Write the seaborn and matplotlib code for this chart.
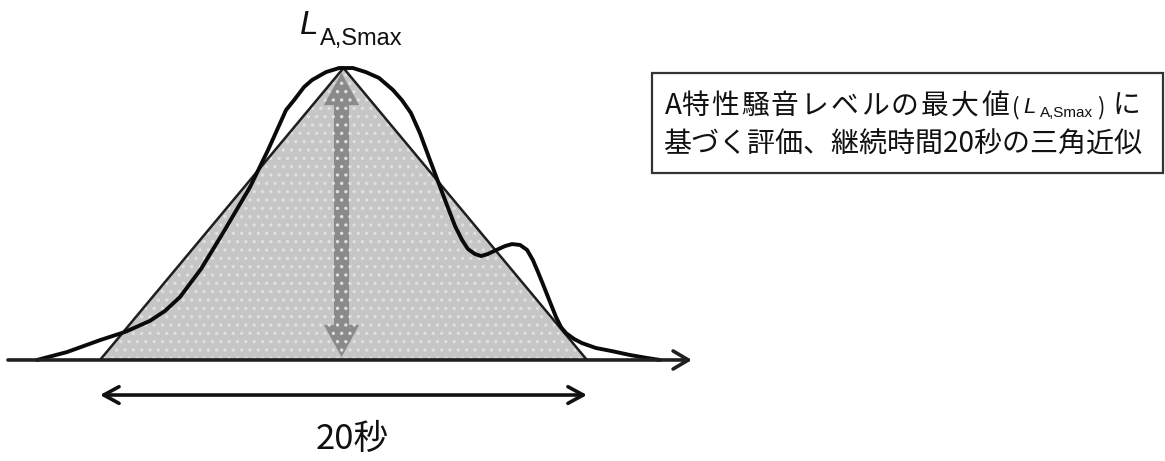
import numpy as np
import pandas as pd
import matplotlib
matplotlib.use("Agg")
import matplotlib.pyplot as plt
import seaborn as sns
from matplotlib.patches import Rectangle

# ---- data -------------------------------------------------------------
# measured A-weighted level curve (relative units, peak ~100) vs time [s]
time_s = [-2.59, -1.36, 0.0, 1.03, 2.05, 2.67, 3.29, 4.15, 5.05, 6.16,
          6.90, 7.64, 7.97, 8.38, 8.71, 9.28, 9.82, 10.39, 10.92, 11.46,
          12.03, 12.40, 12.77, 13.14, 13.55, 14.17, 14.58, 14.87, 15.11, 15.40,
          15.65, 15.93, 16.18, 16.63, 16.92, 17.25, 17.54, 17.78, 17.99, 18.19,
          18.48, 18.73, 18.93, 19.14, 19.47, 19.79, 20.37, 20.99, 21.77, 22.46,
          23.0]
level = [0.0, 2.7, 6.8, 9.6, 13.4, 16.8, 21.6, 31.2, 43.5, 59.2,
         71.9, 85.6, 89.0, 93.5, 95.9, 98.6, 100.0, 100.0, 98.6, 96.6,
         92.5, 89.0, 84.6, 77.7, 68.5, 54.8, 45.9, 41.1, 38.0, 36.3,
         35.6, 36.3, 37.3, 39.0, 39.7, 39.4, 37.7, 34.2, 30.1, 26.0,
         19.9, 14.7, 11.3, 9.2, 7.2, 5.8, 4.1, 3.1, 1.7, 0.7,
         0.0]

# triangular approximation
tri_time = [0, 10, 20]          # start, peak, end [s]
tri_level = [0, 100, 0]
axis_range = [-3.78, 24.31]     # time axis extent [s]
span_level = -12.0              # level of the "20秒" dimension arrow

label_peak = ("L", "A,Smax")
label_duration = "20秒"
box_line1 = ["A特性騒音レベルの最大値", "(", "L", "A,Smax", ")", "に"]
box_line2 = "基づく評価、継続時間20秒の三角近似"

# ---- style ------------------------------------------------------------
sns.set_theme(style="white")
plt.rcParams["font.family"] = ["Noto Sans CJK JP", "DejaVu Sans"]
plt.rcParams["hatch.linewidth"] = 1.2

W, H = 1165, 461
fig = plt.figure(figsize=(W / 100, H / 100), dpi=100)
ax = fig.add_axes([0, 0, 1, 1])
ax.set_xlim(-4.107, 43.74)
ax.set_ylim(-34.6, 123.3)
ax.axis("off")


def fpx(x, y):
    """figure-pixel (from top-left) -> figure fraction"""
    return x / W, 1 - y / H


# triangle fill
ax.fill(tri_time, tri_level, facecolor="#c6c6c6", edgecolor="none", zorder=1)

# vertical double arrow (L_A,Smax)
peak_t = tri_time[1]
mid = tri_level[1] / 2
top_tip = tri_level[1] - 1.7
bot_tip = 1.0
for tip in (top_tip, bot_tip):
    ax.arrow(peak_t - 0.08, mid, 0, tip - mid, width=0.62, head_width=1.45,
             head_length=11, length_includes_head=True,
             facecolor="#8a8a8a", edgecolor="none", zorder=2)

# speckle texture
ax.fill(tri_time, tri_level, facecolor="none", edgecolor="#e0e0e0",
        hatch="..", linewidth=0, zorder=2.5)
ax.plot(tri_time, tri_level, color="#1e1e1e", lw=1.8, zorder=3,
        solid_joinstyle="miter")

# measured curve
df = pd.DataFrame({"time": time_s, "level": level})
sns.lineplot(data=df, x="time", y="level", sort=False, color="#0a0a0a",
             lw=2.8, ax=ax, zorder=4, solid_joinstyle="round",
             solid_capstyle="round")

# time axis with arrow
ax.annotate("", xy=(axis_range[1], 0), xytext=(axis_range[0], 0),
            arrowprops=dict(arrowstyle="->,head_length=1.1,head_width=0.65",
                            mutation_scale=10, lw=2.6, color="#202020",
                            shrinkA=0, shrinkB=0), zorder=5)

# 20 s dimension arrow
ax.annotate("", xy=(tri_time[2], span_level), xytext=(tri_time[0], span_level),
            arrowprops=dict(arrowstyle="<->,head_length=1.1,head_width=0.6",
                            mutation_scale=10, lw=2.6, color="#111111",
                            shrinkA=0, shrinkB=0), zorder=5)

# labels
fig.text(*fpx(352, 439), label_duration, fontsize=25, ha="center", va="center",
         color="#111111")
fig.text(*fpx(300, 34), label_peak[0], fontsize=24, style="italic",
         family="Liberation Sans", ha="left", va="baseline", color="#111111")
fig.text(*fpx(320, 45), label_peak[1], fontsize=17,
         family="Liberation Sans", ha="left", va="baseline", color="#111111")

# boxed description
x0, y0 = fpx(652, 173)
x1, y1 = fpx(1163, 73)
fig.patches.append(Rectangle((x0, y0), x1 - x0, y1 - y0, transform=fig.transFigure,
                             facecolor="white", edgecolor="#333333", lw=1.6,
                             zorder=6))

base1 = 114
txt_kw = dict(ha="left", va="baseline", color="#111111", zorder=7)
# first run: spaced characters, as in the original
head = box_line1[0]
xs = [665] + [681 + 30 * i for i in range(len(head) - 1)]
for ch, xc in zip(head, xs):
    fig.text(*fpx(xc, base1), ch, fontsize=20, **txt_kw)
fig.text(*fpx(1012, base1), box_line1[1], fontsize=16, **txt_kw)
fig.text(*fpx(1023, base1 - 1), box_line1[2], fontsize=16, style="italic",
         family="Liberation Sans", **txt_kw)
fig.text(*fpx(1040, base1 + 3), box_line1[3], fontsize=11,
         family="Liberation Sans", **txt_kw)
fig.text(*fpx(1097, base1), box_line1[4], fontsize=16, **txt_kw)
fig.text(*fpx(1113, base1), box_line1[5], fontsize=20, **txt_kw)

fig.text(*fpx(663, 153), box_line2, fontsize=20.2, **txt_kw)

fig.savefig("out.png", dpi=100)
